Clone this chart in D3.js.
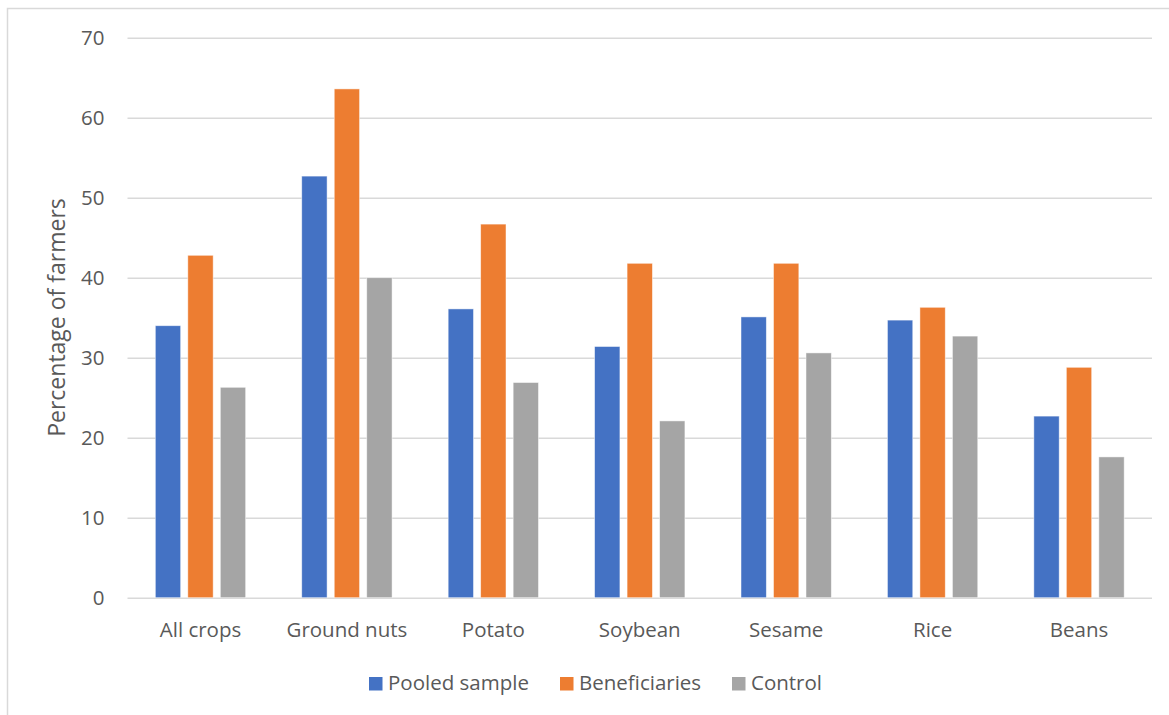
<!DOCTYPE html>
<html>
<head>
<meta charset="utf-8">
<script src="https://cdn.jsdelivr.net/npm/d3@7"></script>
<style>
  html, body { margin: 0; padding: 0; background: #fff; }
  svg text { font-family: "Open Sans", "Liberation Sans", sans-serif; fill: #595959; }
</style>
</head>
<body>
<svg id="chart" width="1169" height="715"></svg>
<script>
// Share of farmers by crop, for three sample groups
const crops = ["All crops", "Ground nuts", "Potato", "Soybean", "Sesame", "Rice", "Beans"];
const seriesNames = ["Pooled sample", "Beneficiaries", "Control"];
const pooled        = [34.0, 52.7, 36.1, 31.4, 35.1, 34.7, 22.7];
const beneficiaries = [42.8, 63.6, 46.7, 41.8, 41.8, 36.3, 28.8];
const control       = [26.3, 40.0, 26.9, 22.1, 30.6, 32.7, 17.6];
const yTicks = [0, 10, 20, 30, 40, 50, 60, 70];
const colors = ["#4472C4", "#ED7D31", "#A5A5A5"];

const seriesValues = [pooled, beneficiaries, control];
const svg = d3.select("#chart");
const labelSize = 20.5;

// outer chart frame
svg.append("rect")
  .attr("x", 7.5).attr("y", 8.5)
  .attr("width", 1200).attr("height", 800)
  .attr("fill", "none").attr("stroke", "#d9d9d9").attr("stroke-width", 1.5);

const plot = { left: 127.5, right: 1152, top: 37.7, bottom: 597.7 };

const x0 = d3.scaleBand().domain(crops).range([plot.left, plot.right]).paddingInner(0.383).paddingOuter(0.19);
const x1 = d3.scaleBand().domain(seriesNames).range([0, x0.bandwidth()]).paddingInner(0.22);
const y = d3.scaleLinear().domain([0, 70]).range([plot.bottom, plot.top]);

// horizontal gridlines
const yAxis = d3.axisLeft(y).tickValues(yTicks).tickSize(-(plot.right - plot.left)).tickPadding(23);
const gy = svg.append("g").attr("transform", `translate(${plot.left},0)`).call(yAxis);
gy.select(".domain").remove();
gy.selectAll(".tick line").attr("stroke", "#d9d9d9").attr("stroke-width", 1.5);
gy.selectAll(".tick text").attr("font-size", labelSize).style("fill", "#595959");

// category axis labels
const xAxis = d3.axisBottom(x0).tickSize(0).tickPadding(24.5);
const gx = svg.append("g").attr("transform", `translate(0,${plot.bottom})`).call(xAxis);
gx.select(".domain").remove();
gx.selectAll(".tick text").attr("font-size", labelSize).style("fill", "#595959");

// bars
const rows = crops.map((c, i) => ({ crop: c, values: seriesNames.map((s, k) => ({ series: s, k, value: seriesValues[k][i] })) }));
svg.append("g").selectAll("g").data(rows).join("g")
  .attr("transform", d => `translate(${x0(d.crop)},0)`)
  .selectAll("rect").data(d => d.values).join("rect")
  .attr("x", d => x1(d.series))
  .attr("y", d => y(d.value))
  .attr("width", x1.bandwidth())
  .attr("height", d => y(0) - y(d.value))
  .attr("fill", d => colors[d.k])
  .attr("stroke", "#ffffff").attr("stroke-opacity", 0.6).attr("stroke-width", 0.8);

// y axis title
svg.append("text")
  .attr("transform", "translate(65,317.5) rotate(-90)")
  .attr("text-anchor", "middle")
  .attr("font-size", 23)
  .text("Percentage of farmers");

// legend
const legendX = [369, 560, 732];
const lg = svg.append("g").selectAll("g").data(seriesNames).join("g")
  .attr("transform", (d, i) => `translate(${legendX[i]},677)`);
lg.append("rect").attr("width", 13.5).attr("height", 13.5).attr("fill", (d, i) => colors[i]);
lg.append("text").attr("x", 19).attr("y", 13).attr("font-size", labelSize).text(d => d);
</script>
</body>
</html>
